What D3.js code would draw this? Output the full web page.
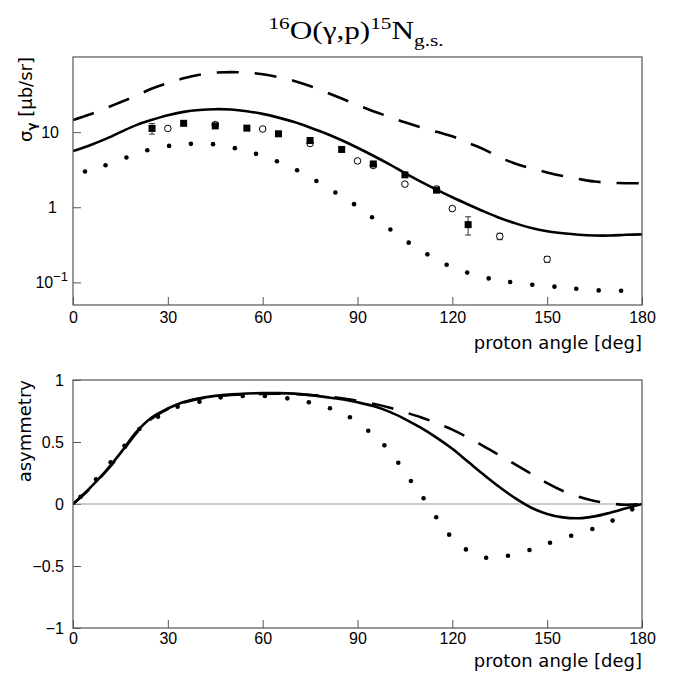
<!DOCTYPE html>
<html>
<head>
<meta charset="utf-8">
<script src="https://cdn.jsdelivr.net/npm/d3@7"></script>
<style>
  body { margin: 0; background: #fff; }
  text { fill: #000; }
</style>
</head>
<body>
<script>
// ---- data ----
var angles = [0,5,10,15,20,25,30,35,40,45,50,55,60,65,70,75,80,85,90,95,100,105,110,115,120,125,130,135,140,145,150,155,160,165,170,175,180];

// top panel: cross section [mub/sr]
var topSolid = [5.6,6.6,8.0,10.0,12.4,14.6,16.8,18.6,19.7,20.2,20.0,19.0,17.5,15.6,13.6,11.5,9.6,7.8,6.2,4.85,3.75,2.85,2.2,1.72,1.36,1.09,0.88,0.72,0.61,0.53,0.48,0.45,0.43,0.42,0.42,0.43,0.435];
var topDashed = [14.5,17,20.5,25,30.5,38,45,52,58,62,63,62,59,54,48,41,34,28,23,19,16,13.5,11.6,10.1,8.8,7.2,5.9,4.6,3.8,3.3,2.9,2.6,2.38,2.2,2.12,2.09,2.09];
var topDotAngle = [3.8,10.3,16.9,23.5,30.4,37.3,44.3,51.2,57.9,64.5,70.9,77.0,83.0,88.9,94.6,100.4,106.2,112.1,118.2,124.7,131.5,138.3,145.3,152.3,159.2,166.3,173.4];
var topDotValue = [2.99,3.63,4.6,5.75,6.56,6.98,6.92,6.12,5.14,4.1,3.11,2.24,1.57,1.1,0.736,0.505,0.338,0.236,0.172,0.135,0.113,0.101,0.093,0.0877,0.0824,0.0782,0.0775];

var squareAngle = [25,35,45,55,65,75,85,95,105,115,125];
var squareValue = [11.2,13.1,12.1,11.3,9.5,7.74,5.88,3.77,2.7,1.69,0.587];
var squareErr   = [1.8,0,0,0,0,0,0,0.25,0,0,0.16];
var circleAngle = [30,45,60,75,90,95,105,115,120,135,150];
var circleValue = [11.2,12.6,11.0,7.06,4.14,3.6,2.03,1.75,0.96,0.41,0.203];
var circleErr   = [0,0,0,0,0,0,0,0,0,0.04,0.018];

// bottom panel: asymmetry
var botSolid = [0,0.12,0.255,0.41,0.58,0.70,0.77,0.823,0.853,0.872,0.884,0.891,0.894,0.894,0.89,0.878,0.862,0.845,0.82,0.79,0.745,0.685,0.615,0.535,0.445,0.34,0.235,0.135,0.045,-0.03,-0.08,-0.108,-0.115,-0.1,-0.07,-0.035,0];
var botDashed = [0,0.115,0.25,0.40,0.57,0.69,0.765,0.818,0.85,0.868,0.879,0.885,0.888,0.889,0.886,0.879,0.868,0.852,0.832,0.808,0.778,0.74,0.7,0.652,0.6,0.535,0.465,0.392,0.318,0.243,0.168,0.105,0.058,0.024,0.004,-0.006,0];
var botDotAngle = [2.4,7.3,11.9,16.3,21.0,26.9,33.1,40.0,46.7,53.7,60.7,67.8,74.6,81.3,87.6,93.4,98.5,102.9,106.9,110.9,114.9,119.0,124.3,130.7,137.6,144.4,150.9,157.6,164.3,170.7,176.9];
var botDotValue = [0.059,0.20,0.336,0.47,0.605,0.704,0.785,0.825,0.86,0.871,0.871,0.852,0.82,0.772,0.699,0.591,0.473,0.333,0.185,0.046,-0.107,-0.247,-0.366,-0.433,-0.417,-0.371,-0.312,-0.256,-0.202,-0.134,-0.043];

// ticks / labels
var xMajor = [0,30,60,90,120,150,180];
var xMinor = [15,45,75,105,135,165];
var topYLabels = [{v: 10, base: "10", exp: ""}, {v: 1, base: "1", exp: ""}, {v: 0.1, base: "10", exp: "\u22121"}];
var botYMajor = [-1,-0.5,0,0.5,1];
var botYMinor = [-0.9,-0.8,-0.7,-0.6,-0.4,-0.3,-0.2,-0.1,0.1,0.2,0.3,0.4,0.6,0.7,0.8,0.9];

// ---- layout ----
var width = 680, height = 679;
var left = 73, right = 642;
var topP = {y0: 57, y1: 305}, botP = {y0: 380, y1: 628};
var frameColor = "#555";
var labelFont = "'Liberation Sans', Arial, sans-serif";
var titleFont = "'DejaVu Sans', sans-serif";

var svg = d3.select("body").append("svg")
    .attr("width", width)
    .attr("height", height);

var x = d3.scaleLinear().domain([0, 180]).range([left, right]);
var yTop = d3.scaleLog().domain([0.05, 100]).range([topP.y1, topP.y0]);
var yBot = d3.scaleLinear().domain([-1, 1]).range([botP.y1, botP.y0]);

var defs = svg.append("defs");
[["clipTop", topP], ["clipBot", botP]].forEach(function(c) {
  defs.append("clipPath").attr("id", c[0])
    .append("rect")
      .attr("x", left).attr("y", c[1].y0)
      .attr("width", right - left).attr("height", c[1].y1 - c[1].y0);
});

// title
var title = svg.append("text")
    .attr("transform", "translate(356,39) scale(1.25,1)")
    .attr("text-anchor", "middle")
    .style("font-family", "'Liberation Serif', 'Times New Roman', serif")
    .style("font-size", "25px");
title.append("tspan").style("font-size", "17px").attr("dy", -10).text("16");
title.append("tspan").attr("dy", 10).text("O(\u03b3,p)");
title.append("tspan").style("font-size", "17px").attr("dy", -10).text("15");
title.append("tspan").attr("dy", 10).text("N");
title.append("tspan").style("font-size", "17px").attr("dy", 7).text("g.s.");

function xAxis(panel, pad) {
  var g = svg.append("g").attr("transform", "translate(0," + panel.y1 + ")");
  g.call(d3.axisBottom(x).tickValues(xMinor).tickSize(-5).tickFormat(""));
  g.call(d3.axisBottom(x).tickValues(xMajor).tickSize(-8).tickPadding(pad).tickFormat(d3.format("d")));
  g.selectAll(".domain").remove();
  g.selectAll("line").attr("stroke", frameColor);
  g.selectAll("text").style("font-family", labelFont).style("font-size", "16px").attr("fill", "#000");
  return g;
}

function frame(panel) {
  svg.append("rect")
    .attr("x", left).attr("y", panel.y0)
    .attr("width", right - left).attr("height", panel.y1 - panel.y0)
    .attr("fill", "none").attr("stroke", frameColor).attr("stroke-width", 1.2);
}

function xTitle(yBase) {
  svg.append("text")
    .attr("x", right).attr("y", yBase)
    .attr("text-anchor", "end")
    .style("font-family", titleFont).style("font-size", "18px")
    .text("proton angle [deg]");
}

// ================= top panel =================
xAxis(topP, 7);
var gyT = svg.append("g").attr("transform", "translate(" + left + ",0)");
gyT.call(d3.axisLeft(yTop).tickValues(yTop.ticks()).tickSize(-4).tickFormat(""));
gyT.call(d3.axisLeft(yTop).tickValues([0.1, 1, 10]).tickSize(-8).tickFormat(""));
gyT.selectAll(".domain").remove();
gyT.selectAll("line").attr("stroke", frameColor);

topYLabels.forEach(function(l) {
  var t = svg.append("text")
      .attr("x", l.exp ? 68 : (l.base === "1" ? 57 : 59))
      .attr("y", yTop(l.v))
      .attr("dy", "0.35em")
      .attr("text-anchor", "end")
      .style("font-family", labelFont).style("font-size", "16px");
  t.append("tspan").text(l.base);
  if (l.exp) t.append("tspan").attr("dy", "-0.55em").style("font-size", "13px").text(l.exp);
});

var yt = svg.append("text")
    .attr("transform", "translate(32," + topP.y0 + ") rotate(-90)")
    .attr("text-anchor", "end")
    .style("font-family", titleFont).style("font-size", "18px");
yt.append("tspan").text("\u03c3");
yt.append("tspan").attr("dy", 4).style("font-size", "12px").style("font-weight", "bold").text("\u03b3");
yt.append("tspan").attr("dy", -4).text(" [\u03bcb/sr]");

xTitle(349);

var plotT = svg.append("g").attr("clip-path", "url(#clipTop)");
var lineTop = d3.line()
    .x(function(d, i) { return x(angles[i]); })
    .y(function(d) { return yTop(d); })
    .curve(d3.curveCatmullRom.alpha(0.5));

plotT.append("path").datum(topSolid)
    .attr("d", lineTop).attr("fill", "none")
    .attr("stroke", "#000").attr("stroke-width", 2.6);
plotT.append("path").datum(topDashed)
    .attr("d", lineTop).attr("fill", "none")
    .attr("stroke", "#000").attr("stroke-width", 2.6)
    .attr("stroke-dasharray", "22,16");
plotT.selectAll("circle.dot").data(topDotValue).join("circle")
    .attr("class", "dot")
    .attr("cx", function(d, i) { return x(topDotAngle[i]); })
    .attr("cy", function(d) { return yTop(d); })
    .attr("r", 2.3).attr("fill", "#000");

// error bars
function errBars(angleArr, valArr, errArr) {
  valArr.forEach(function(v, i) {
    if (!errArr[i]) return;
    var cx = x(angleArr[i]), y1 = yTop(v - errArr[i]), y2 = yTop(v + errArr[i]);
    plotT.append("line").attr("x1", cx).attr("x2", cx).attr("y1", y1).attr("y2", y2)
      .attr("stroke", "#333").attr("stroke-width", 1);
    [y1, y2].forEach(function(yy) {
      plotT.append("line").attr("x1", cx - 3).attr("x2", cx + 3).attr("y1", yy).attr("y2", yy)
        .attr("stroke", "#333").attr("stroke-width", 1);
    });
  });
}
errBars(circleAngle, circleValue, circleErr);
errBars(squareAngle, squareValue, squareErr);

plotT.selectAll("circle.open").data(circleValue).join("circle")
    .attr("class", "open")
    .attr("cx", function(d, i) { return x(circleAngle[i]); })
    .attr("cy", function(d) { return yTop(d); })
    .attr("r", 3.3).attr("fill", "#fff").attr("stroke", "#000").attr("stroke-width", 1);
plotT.selectAll("rect.sq").data(squareValue).join("rect")
    .attr("class", "sq")
    .attr("x", function(d, i) { return x(squareAngle[i]) - 3.5; })
    .attr("y", function(d) { return yTop(d) - 3.5; })
    .attr("width", 7).attr("height", 7).attr("fill", "#000");

frame(topP);

// ================= bottom panel =================
xAxis(botP, 5);
var gyB = svg.append("g").attr("transform", "translate(" + left + ",0)");
gyB.call(d3.axisLeft(yBot).tickValues(botYMinor).tickSize(-4).tickFormat(""));
gyB.call(d3.axisLeft(yBot).tickValues(botYMajor).tickSize(-8).tickPadding(9).tickFormat(d3.format("~g")));
gyB.selectAll(".domain").remove();
gyB.selectAll("line").attr("stroke", frameColor);
gyB.selectAll("text").style("font-family", labelFont).style("font-size", "16px").attr("fill", "#000");

svg.append("text")
    .attr("transform", "translate(31," + botP.y0 + ") rotate(-90)")
    .attr("text-anchor", "end")
    .style("font-family", titleFont).style("font-size", "18px")
    .text("asymmetry");

xTitle(667);

svg.append("line")
    .attr("x1", left).attr("x2", right)
    .attr("y1", yBot(0)).attr("y2", yBot(0))
    .attr("stroke", "#999").attr("stroke-width", 1);

var plotB = svg.append("g").attr("clip-path", "url(#clipBot)");
var lineBot = d3.line()
    .x(function(d, i) { return x(angles[i]); })
    .y(function(d) { return yBot(d); })
    .curve(d3.curveCatmullRom.alpha(0.5));

plotB.append("path").datum(botSolid)
    .attr("d", lineBot).attr("fill", "none")
    .attr("stroke", "#000").attr("stroke-width", 2.6);
plotB.append("path").datum(botDashed)
    .attr("d", lineBot).attr("fill", "none")
    .attr("stroke", "#000").attr("stroke-width", 2.6)
    .attr("stroke-dasharray", "22,16");
plotB.selectAll("circle.dot").data(botDotValue).join("circle")
    .attr("class", "dot")
    .attr("cx", function(d, i) { return x(botDotAngle[i]); })
    .attr("cy", function(d) { return yBot(d); })
    .attr("r", 2.3).attr("fill", "#000");

frame(botP);
</script>
</body>
</html>
